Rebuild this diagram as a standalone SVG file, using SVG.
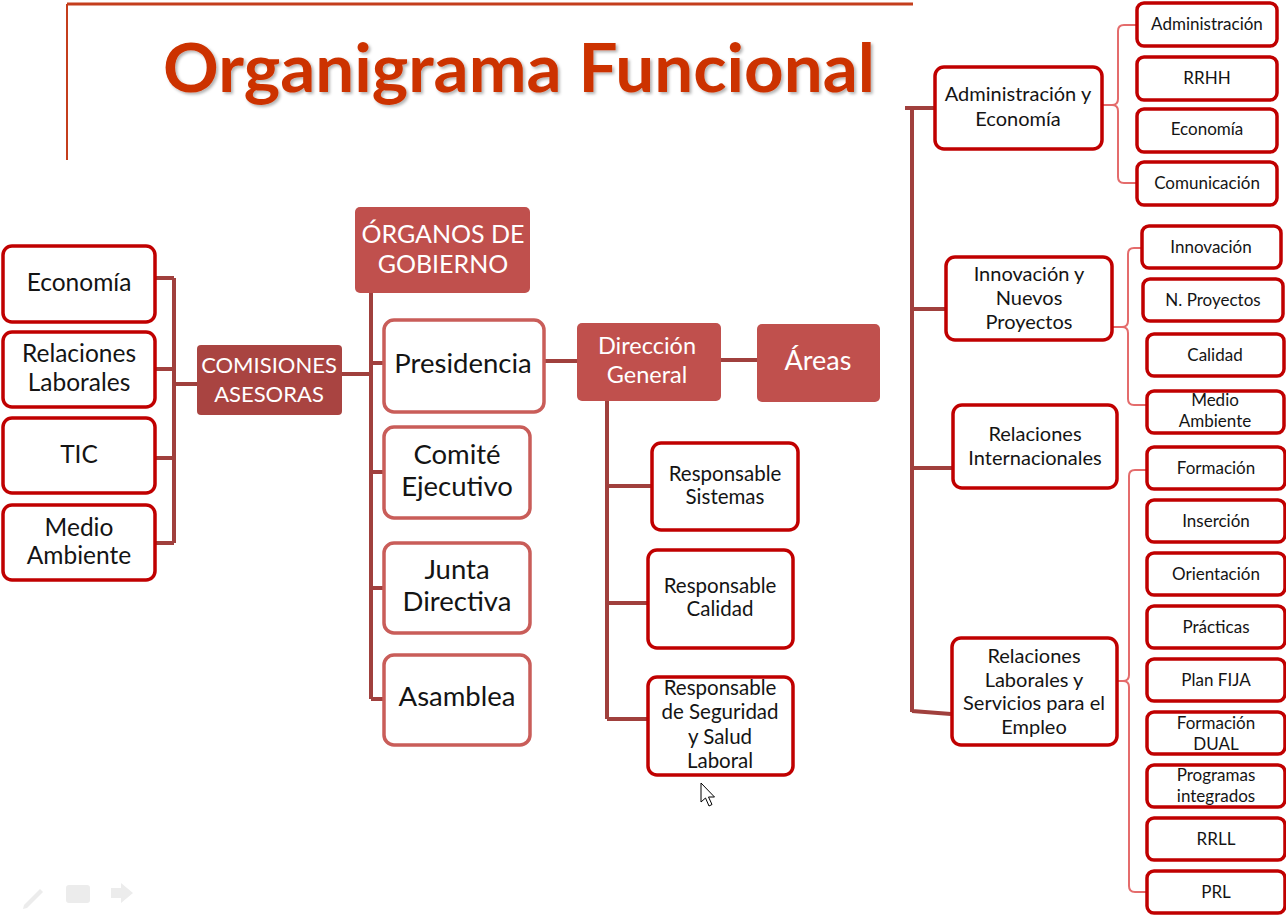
<svg xmlns="http://www.w3.org/2000/svg" width="1286" height="917" viewBox="0 0 1286 917">
<defs>
<filter id="sh" x="-5%" y="-20%" width="110%" height="140%">
<feDropShadow dx="2" dy="2" stdDeviation="1.5" flood-color="#000" flood-opacity="0.3"/>
</filter>
</defs>
<style>
text{font-family:Lato,"Open Sans","Liberation Sans",sans-serif;text-anchor:middle;fill:#141414}
.t{font-weight:bold;fill:#CC3300}
.conn{stroke:#A0403D;stroke-width:4;fill:none}
.brace{stroke:#E46C6C;stroke-width:2;fill:none}
.bw{fill:#fff;stroke:#C00000;stroke-width:3.5}
.bl{fill:#fff;stroke:#C95D59;stroke-width:3.5}
.bf{fill:#C0504D}
.bd{fill:#A94441}
.w{fill:#fff}
.s15{font-size:17px}
.s18{font-size:20.5px}
.s17{font-size:20px}
.s22{font-size:24.5px}
.s25{font-size:27.5px}
</style>
<rect width="1286" height="917" fill="#fff"/>

<g id="frame">
<path d="M67,4 H913" stroke="#C43E1C" stroke-width="3" fill="none"/>
<path d="M67,4 V160" stroke="#C43E1C" stroke-width="2" fill="none"/>
<text class="t" x="519" y="92" font-size="66" textLength="712" lengthAdjust="spacingAndGlyphs" filter="url(#sh)">Organigrama Funcional</text>
</g>

<g id="connectors">
<path class="conn" d="M155,278 H174 M155,369 H174 M155,458 H174 M155,543 H174 M174,278 V543 M174,384 H200"/>
<path class="conn" d="M342,374 H371 M371,292 V699 M371,363 H384 M371,472 H384 M371,588 H384 M371,699 H384"/>
<path class="conn" d="M543,361 H578 M720,360 H758"/>
<path class="conn" d="M607,401 V719 M607,486 H652 M607,603 H648 M607,719 H648"/>
<path class="conn" d="M905,108 H936 M912,108 V712 M910,309 H947 M913,468 H954 M912,711 L951,714"/>
<path class="brace" d="M1137,25 H1124 Q1118,25 1118,31 V99 Q1118,105 1112,105 H1102 M1112,105 Q1118,105 1118,111 V177 Q1118,183 1124,183 H1137"/>
<path class="brace" d="M1142,248 H1134 Q1128,248 1128,254 V321 Q1128,327 1122,327 H1112 M1122,327 Q1128,327 1128,333 V399 Q1128,405 1134,405 H1147"/>
<path class="brace" d="M1147,470 H1135 Q1129,470 1129,476 V675 Q1129,681 1123,681 H1117 M1123,681 Q1129,681 1129,687 V886 Q1129,892 1135,892 H1147"/>
</g>

<g id="n-economia-l"><rect class="bw" x="3" y="246" width="152" height="76" rx="9"/><text class="s22" x="79" y="291">Economía</text></g>
<g id="n-rrll-l"><rect class="bw" x="3" y="332" width="152" height="75" rx="9"/><text class="s22" x="79" y="362">Relaciones</text><text class="s22" x="79" y="391">Laborales</text></g>
<g id="n-tic"><rect class="bw" x="3" y="418" width="152" height="75" rx="9"/><text class="s22" x="79" y="463">TIC</text></g>
<g id="n-medio-l"><rect class="bw" x="3" y="505" width="152" height="75" rx="9"/><text class="s22" x="79" y="536">Medio</text><text class="s22" x="79" y="564">Ambiente</text></g>

<g id="n-comisiones"><rect class="bd" x="197" y="345" width="145" height="70" rx="4"/><text class="w" font-size="22" x="269" y="373">COMISIONES</text><text class="w" font-size="22" x="269" y="402">ASESORAS</text></g>

<g id="n-organos"><rect class="bf" x="355" y="207" width="175" height="86" rx="5"/><text class="w" font-size="25" x="443" y="243">ÓRGANOS DE</text><text class="w" font-size="25" x="443" y="273">GOBIERNO</text></g>

<g id="n-presidencia"><rect class="bl" x="384" y="320" width="160" height="92" rx="10"/><text class="s25" x="463" y="373">Presidencia</text></g>
<g id="n-comite"><rect class="bl" x="384" y="427" width="146" height="91" rx="10"/><text class="s25" x="457" y="464">Comité</text><text class="s25" x="457" y="496">Ejecutivo</text></g>
<g id="n-junta"><rect class="bl" x="384" y="543" width="146" height="90" rx="10"/><text class="s25" x="457" y="579">Junta</text><text class="s25" x="457" y="611">Directiva</text></g>
<g id="n-asamblea"><rect class="bl" x="384" y="655" width="146" height="90" rx="10"/><text class="s25" x="457" y="706">Asamblea</text></g>

<g id="n-direccion"><rect class="bf" x="577" y="323" width="144" height="78" rx="5"/><text class="w" font-size="23.5" x="647" y="354">Dirección</text><text class="w" font-size="23.5" x="647" y="383">General</text></g>
<g id="n-areas"><rect class="bf" x="757" y="324" width="123" height="78" rx="5"/><text class="w" font-size="27" x="818" y="370">Áreas</text></g>

<g id="n-sistemas"><rect class="bw" x="652" y="443" width="146" height="87" rx="9"/><text class="s18" x="725" y="481">Responsable</text><text class="s18" x="725" y="504">Sistemas</text></g>
<g id="n-calidad"><rect class="bw" x="648" y="550" width="145" height="98" rx="9"/><text class="s18" x="720" y="593">Responsable</text><text class="s18" x="720" y="616">Calidad</text></g>
<g id="n-seguridad"><rect class="bw" x="648" y="677" width="145" height="98" rx="9"/><text class="s18" x="720" y="695">Responsable</text><text class="s18" x="720" y="719">de Seguridad</text><text class="s18" x="720" y="744">y Salud</text><text class="s18" x="720" y="768">Laboral</text></g>

<g id="n-admin-eco"><rect class="bw" x="935" y="67" width="167" height="82" rx="9"/><text class="s17" x="1018" y="101">Administración y</text><text class="s17" x="1018" y="126">Economía</text></g>
<g id="n-innov"><rect class="bw" x="946" y="257" width="166" height="83" rx="9"/><text class="s17" x="1029" y="281">Innovación y</text><text class="s17" x="1029" y="305">Nuevos</text><text class="s17" x="1029" y="329">Proyectos</text></g>
<g id="n-rrii"><rect class="bw" x="953" y="405" width="164" height="83" rx="9"/><text class="s17" x="1035" y="441">Relaciones</text><text class="s17" x="1035" y="465">Internacionales</text></g>
<g id="n-rrll"><rect class="bw" x="952" y="638" width="165" height="107" rx="9"/><text class="s17" x="1034" y="663">Relaciones</text><text class="s17" x="1034" y="687">Laborales y</text><text class="s17" x="1034" y="710">Servicios para el</text><text class="s17" x="1034" y="734">Empleo</text></g>

<g id="n-administracion"><rect class="bw" x="1137" y="3" width="140" height="43" rx="7"/><text class="s15" x="1207" y="30">Administración</text></g>
<g id="n-rrhh"><rect class="bw" x="1137" y="57" width="140" height="43" rx="7"/><text class="s15" x="1207" y="84">RRHH</text></g>
<g id="n-economia-r"><rect class="bw" x="1137" y="109" width="140" height="43" rx="7"/><text class="s15" x="1207" y="135">Economía</text></g>
<g id="n-comunicacion"><rect class="bw" x="1137" y="162" width="140" height="43" rx="7"/><text class="s15" x="1207" y="189">Comunicación</text></g>

<g id="n-innovacion"><rect class="bw" x="1142" y="226" width="139" height="42" rx="7"/><text class="s15" x="1211" y="253">Innovación</text></g>
<g id="n-nproyectos"><rect class="bw" x="1143" y="279" width="140" height="42" rx="7"/><text class="s15" x="1213" y="306">N. Proyectos</text></g>
<g id="n-calidad-r"><rect class="bw" x="1147" y="334" width="137" height="42" rx="7"/><text class="s15" x="1215" y="361">Calidad</text></g>
<g id="n-medio-r"><rect class="bw" x="1147" y="391" width="137" height="42" rx="7"/><text class="s15" x="1215" y="406">Medio</text><text class="s15" x="1215" y="427">Ambiente</text></g>

<g id="n-formacion"><rect class="bw" x="1147" y="447" width="138" height="42" rx="7"/><text class="s15" x="1216" y="474">Formación</text></g>
<g id="n-insercion"><rect class="bw" x="1147" y="500" width="138" height="42" rx="7"/><text class="s15" x="1216" y="527">Inserción</text></g>
<g id="n-orientacion"><rect class="bw" x="1147" y="553" width="138" height="42" rx="7"/><text class="s15" x="1216" y="580">Orientación</text></g>
<g id="n-practicas"><rect class="bw" x="1147" y="606" width="138" height="42" rx="7"/><text class="s15" x="1216" y="633">Prácticas</text></g>
<g id="n-planfija"><rect class="bw" x="1147" y="659" width="138" height="42" rx="7"/><text class="s15" x="1216" y="686">Plan FIJA</text></g>
<g id="n-dual"><rect class="bw" x="1147" y="712" width="138" height="42" rx="7"/><text class="s15" x="1216" y="729">Formación</text><text class="s15" x="1216" y="750">DUAL</text></g>
<g id="n-programas"><rect class="bw" x="1147" y="765" width="138" height="42" rx="7"/><text class="s15" x="1216" y="781">Programas</text><text class="s15" x="1216" y="802">integrados</text></g>
<g id="n-rrll-r"><rect class="bw" x="1147" y="818" width="138" height="42" rx="7"/><text class="s15" x="1216" y="845">RRLL</text></g>
<g id="n-prl"><rect class="bw" x="1147" y="871" width="138" height="42" rx="7"/><text class="s15" x="1216" y="898">PRL</text></g>

<g id="cursor">
<path d="M701,783 L701,802 L705.5,798 L709,806 L712,804.5 L708.5,797 L714.5,797 Z" fill="#fff" stroke="#000" stroke-width="1" stroke-linejoin="round"/>
</g>
<g id="slide-controls" fill="#ececec">
<path d="M24,905 L40,889 L43,892 L27,908 L23,909 Z"/>
<rect x="66" y="885" width="24" height="18" rx="3"/>
<path d="M111,888 H121 V883 L133,893 L121,903 V898 H111 Z"/>
</g>
</svg>
